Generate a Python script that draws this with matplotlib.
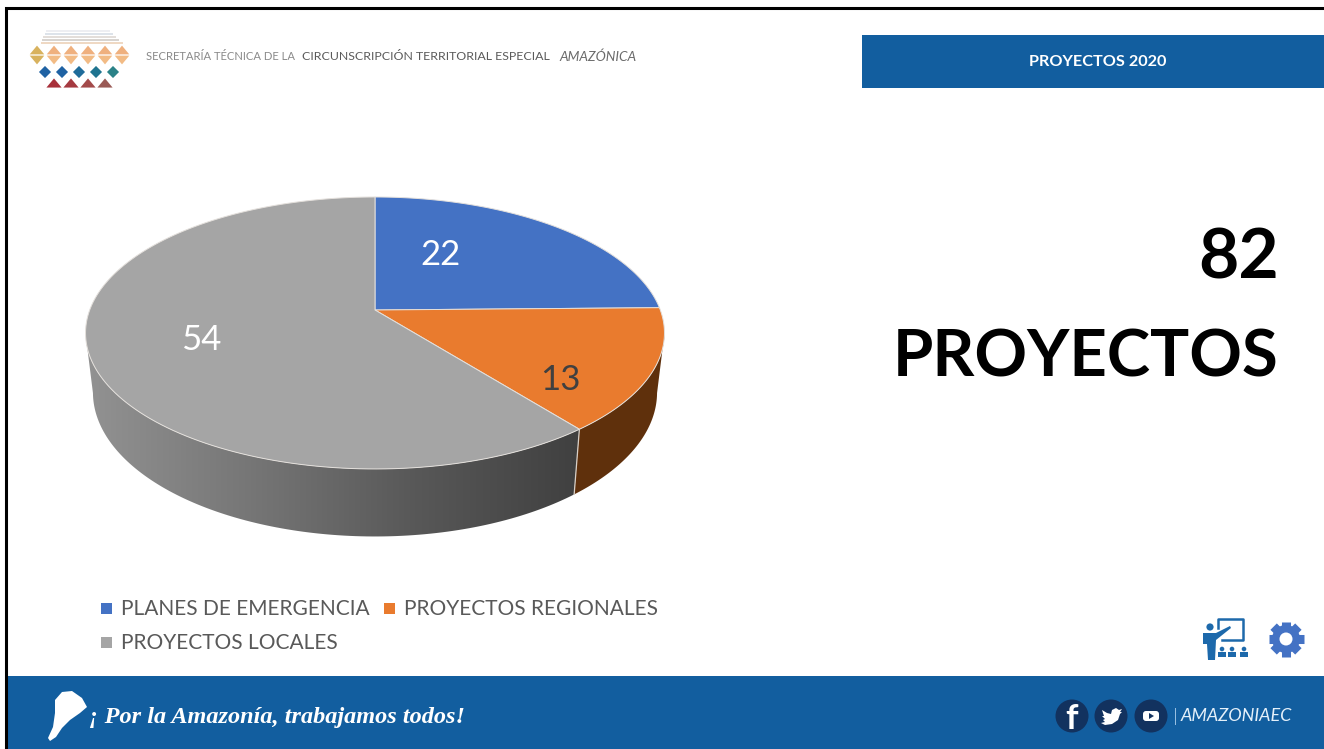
import numpy as np
import matplotlib
matplotlib.use("Agg")
import matplotlib.pyplot as plt
from matplotlib.colors import LinearSegmentedColormap
from matplotlib.patches import Circle, FancyBboxPatch, Polygon, Rectangle

plt.rcParams['font.family'] = ['Lato', 'DejaVu Sans']

categories = ['PLANES DE EMERGENCIA', 'PROYECTOS REGIONALES', 'PROYECTOS LOCALES']
values = [22, 13, 54]
colors = ['#4472C4', '#E97B2E', '#A5A5A5']
label_colors = ['white', '#404040', 'white']
label_xy = [(440, 255), (560, 380), (201, 340)]
legend_xy = [(101, 608), (384, 608), (101, 642)]

BLUE = '#125E9F'
NAVY = '#12325F'

fig = plt.figure(figsize=(13.24, 7.49), dpi=100)
ax = fig.add_axes([0, 0, 1, 1])


# perspective view of the unit disk, angles clockwise from the top
def project(theta, r=1.0, bottom=False):
    u = r * np.sin(theta)
    v = r * np.cos(theta)
    w = 1 + 0.169 * v
    if bottom:
        return 375 + 278 * u / w, 368 - 140 * v / w
    return 375 + 285.3 * u / w, 310 - 132.1 * v / w


def rim(a, b):
    t = np.linspace(a, b, 120)
    x1, y1 = project(t)
    x2, y2 = project(t[::-1], bottom=True)
    return np.column_stack([np.r_[x1, x2], np.r_[y1, y2]])


edges = np.r_[0, np.cumsum(values)] / np.sum(values) * 2 * np.pi
right_end = np.radians(100)
left_end = np.radians(260)

# side of the pie
side = Polygon(rim(edges[2], left_end), closed=True, fc='none', ec='none')
ax.add_patch(side)
grad = LinearSegmentedColormap.from_list('side', ['#929292', '#767676', '#585858', '#404040'])
img = ax.imshow(np.linspace(0, 1, 256).reshape(1, -1), cmap=grad, extent=(86, 580, 540, 330),
                aspect='auto', zorder=1)
img.set_clip_path(side)
ax.add_patch(Polygon(rim(max(edges[1], right_end), edges[2]), closed=True, fc='#5F300C',
                     ec='none', zorder=1))
x0, y0 = project(edges[2])
x1, y1 = project(edges[2], bottom=True)
ax.plot([x0, x1], [y0, y1], color='#D8D0C8', lw=0.9, zorder=1.5)

# top of the pie
for i in range(len(values)):
    t = np.linspace(edges[i], edges[i + 1], 150)
    xs, ys = project(t)
    pts = np.column_stack([np.r_[375, xs], np.r_[310, ys]])
    ax.add_patch(Polygon(pts, closed=True, fc=colors[i], ec='#E4E0DC', lw=0.7, zorder=2))
    ax.text(label_xy[i][0], label_xy[i][1], str(values[i]), color=label_colors[i], fontsize=25,
            ha='center', va='center', zorder=3)

# legend
for i in range(len(categories)):
    x, y = legend_xy[i]
    ax.add_patch(Rectangle((x, y - 5), 11, 11, fc=colors[i], ec='none'))
    ax.text(x + 20, y + 1, categories[i], color='#595959', fontsize=15, va='center', ha='left')

# frame and bands
ax.plot([6, 6, 1324], [749, 8, 8], color='black', lw=2.2, solid_joinstyle='miter')
ax.add_patch(Rectangle((7, 676), 1317, 73, fc=BLUE, ec='none'))
ax.add_patch(Rectangle((862, 35), 462, 53, fc=BLUE, ec='none'))
ax.text(1098, 62, 'PROYECTOS 2020', color='white', fontsize=11.7, weight='bold', ha='center', va='center')

ax.text(1279, 259, '82', fontsize=50, weight='bold', ha='right', va='center', color='black')
ax.text(1279, 358, 'PROYECTOS', fontsize=47, weight='bold', ha='right', va='center', color='black')

# header text
ax.text(146, 57, 'SECRETARÍA TÉCNICA DE LA', color='#8A8A8A', fontsize=8.1, va='center')
ax.text(302, 57, 'CIRCUNSCRIPCIÓN TERRITORIAL ESPECIAL', color='#5A5A5A', fontsize=8.9, va='center')
ax.text(559, 57, 'AMAZÓNICA', color='#6A6A6A', fontsize=9.8, style='italic', va='center')

# logo
for y, c in zip(np.arange(30, 44, 3), ['#EDEEF2', '#DDE3EA', '#E3DEDA', '#D8D4D0', '#EFD9C4']):
    ax.add_patch(Rectangle((46 - (y - 30) * 0.9 / 2, y), 64 + (y - 30) * 1.5, 1.8, fc=c, ec='none'))
up = [(-1, -0.6), (1, -0.6), (0, 0.6)]
down = [(-1, 0.6), (1, 0.6), (0, -0.6)]
ax.scatter([37, 54, 71, 88, 105, 122], [50] * 6, marker=up, s=110, lw=0,
           c=['#D8B25E', '#EFB07E', '#EFB07E', '#EFB07E', '#EFB07E', '#EFB07E'])
ax.scatter([37, 54, 71, 88, 105, 122], [60] * 6, marker=down, s=110, lw=0,
           c=['#D8B25E', '#F2BB85', '#F2BB85', '#F2BB85', '#F2BB85', '#F2BB85'])
ax.scatter([45, 62, 79, 96, 113], [72] * 5, marker='D', s=38, lw=0,
           c=['#1F62A3', '#1F62A3', '#1F6C9A', '#1F7490', '#2B8288'])
ax.scatter([54, 71, 88, 105], [83] * 4, marker=up, s=120, lw=0,
           c=['#A8303A', '#A53A40', '#A34A4A', '#9A5A55'])

# footer
amazon = [(62, 692), (72, 691), (82, 698), (87, 707), (80, 713), (70, 720), (62, 728), (56, 737),
          (50, 741), (48, 738), (53, 727), (55, 713), (55, 700)]
ax.add_patch(Polygon(amazon, closed=True, fc='white', ec='none'))
ax.text(89, 717, '¡ Por la Amazonía, trabajamos todos!', color='white', fontsize=17.5,
        family='Liberation Serif', style='italic', weight='bold', va='center')

for cx in [1072, 1111, 1151]:
    ax.add_patch(Circle((cx, 716), 16.5, fc=NAVY, ec='none'))
ax.text(1072, 719, 'f', color='white', fontsize=25, weight='bold', ha='center', va='center')
bird = [(1102, 710), (1107, 713), (1111, 714), (1112, 710), (1116, 708), (1119, 710), (1122, 709),
        (1120, 712), (1122, 712), (1120, 714), (1118, 720), (1112, 724), (1105, 725), (1101, 723),
        (1105, 722), (1103, 720), (1105, 719), (1102, 716), (1104, 716)]
ax.add_patch(Polygon(bird, closed=True, fc='white', ec='none'))
ax.add_patch(FancyBboxPatch((1143, 711), 16, 10, boxstyle='round,pad=0,rounding_size=3', fc='white', ec='none'))
ax.add_patch(Polygon([(1149, 713), (1149, 719), (1154, 716)], closed=True, fc=NAVY, ec='none'))
ax.plot([1174.5, 1174.5], [708, 724], color='#9CC3E4', lw=0.7)
ax.text(1181, 716, 'AMAZONIAEC', color='#E4F0FA', fontsize=13, style='italic', va='center')

# presentation icon
ICON = '#1D69AB'
ax.plot([1218, 1218, 1243, 1243, 1222], [628, 619, 619, 640, 640], color=ICON, lw=1.8)
ax.add_patch(Circle((1210, 627), 3.6, fc=ICON, ec='none'))
ax.add_patch(Polygon([(1203, 633), (1216, 633), (1230, 626), (1231, 628), (1216, 640), (1215, 660),
                      (1208, 660), (1207, 644), (1203, 644)], closed=True, fc=ICON, ec='none'))
for cx in [1222, 1232, 1244]:
    ax.add_patch(Circle((cx, 649), 2.3, fc=ICON, ec='none'))
    ax.add_patch(Rectangle((cx - 4, 652), 8, 5, fc=ICON, ec='none'))

# gear icon
GEAR = '#4472C4'
ax.add_patch(Circle((1286, 639), 14, fc=GEAR, ec='none'))
for a in np.radians(np.arange(0, 360, 45)):
    ax.plot([1286, 1286 + 17.5 * np.cos(a)], [639, 639 + 17.5 * np.sin(a)], color=GEAR, lw=6.5,
            solid_capstyle='butt')
ax.add_patch(Circle((1286, 639), 6.5, fc='white', ec='none', zorder=4))

ax.set_xlim(0, 1324)
ax.set_ylim(749, 0)
ax.axis('off')
fig.savefig('out.png', dpi=100)
